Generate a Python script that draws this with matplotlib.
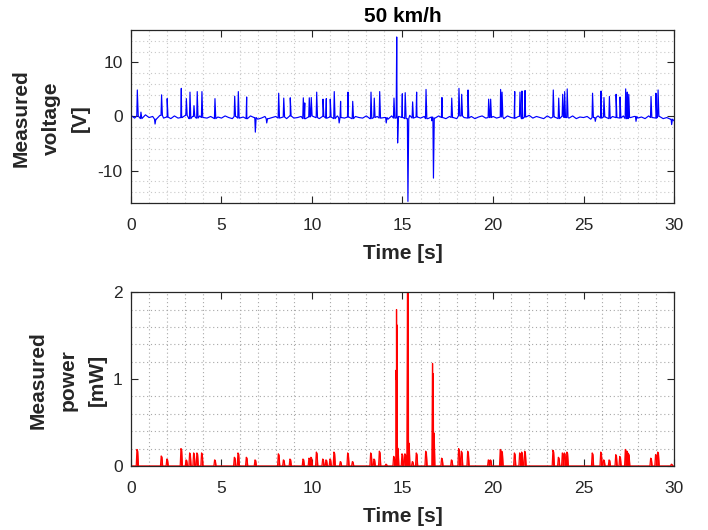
import numpy as np
import matplotlib
matplotlib.use("Agg")
import matplotlib.pyplot as plt
from matplotlib.ticker import MultipleLocator

plt.rcParams['font.family'] = ['Liberation Sans', 'DejaVu Sans']
plt.rcParams['axes.unicode_minus'] = False

# ---------------- data ----------------
title = "50 km/h"
x_label = "Time [s]"
v_label = "Measured\nvoltage\n[V]"
p_label = "Measured\npower\n[mW]"

# baseline voltage samples every 0.2 s (0 .. 30 s)
base_dt = 0.2
v_base = [
    0.2, -0.3, 0.1, -0.4, 0.3, -0.2, 0.0, -0.5, 0.2, -0.3,
    -0.1, -0.4, 0.1, -0.3, -0.2, 0.2, -0.4, 0.0, -0.3, 0.1,
    -0.2, -0.3, 0.0, -0.4, -0.1, -0.3, 0.1, -0.2, -0.4, 0.0,
    -0.3, -0.1, -0.4, 0.1, -0.2, -0.5, -0.3, 0.0, -0.4, -0.2,
    0.0, -0.3, -0.1, -0.4, 0.1, -0.3, -0.2, 0.0, -0.4, -0.1,
    0.1, -0.2, -0.4, 0.0, -0.3, -0.1, -0.4, 0.1, -0.2, -0.3,
    -0.1, -0.4, 0.0, -0.2, -0.3, 0.1, -0.4, -0.2, 0.0, -0.3,
    -0.2, -0.5, 0.1, -0.3, 0.0, -0.2, -0.4, 0.2, -0.3, -0.1,
    -0.3, 0.0, -0.4, -0.1, -0.3, 0.1, -0.2, -0.4, 0.0, -0.2,
    -0.4, 0.1, -0.2, -0.3, 0.0, -0.4, -0.1, 0.1, -0.3, -0.2,
    0.0, -0.3, -0.1, -0.4, 0.1, -0.2, -0.3, 0.0, -0.4, -0.1,
    0.2, -0.3, 0.0, -0.2, -0.4, 0.1, -0.3, -0.1, -0.4, 0.0,
    -0.2, -0.3, 0.1, -0.4, -0.1, -0.2, 0.0, -0.5, -0.2, 0.1,
    -0.3, -0.1, -0.4, 0.0, -0.2, -0.3, 0.1, -0.4, -0.2, 0.0,
    -0.3, -0.1, -0.4, 0.1, -0.2, -0.3, 0.0, -0.4, -0.2, -0.5,
    -0.8,
]

# voltage spike times [s] and peak values [V]
v_spike_t = [0.35, 0.55, 1.33, 1.69, 2.00, 2.78, 3.06, 3.26, 3.48, 3.66, 3.92,
             4.64, 5.73, 5.93, 6.39, 6.87, 7.50, 8.16, 8.44, 8.80, 9.52, 9.60,
             9.85, 9.96, 10.26, 10.61, 10.79, 11.01, 11.23, 11.50, 11.58, 11.99,
             12.25, 13.26, 13.44, 13.74, 14.10, 14.53, 14.68, 14.73, 14.99, 15.15,
             15.30, 15.56, 15.78, 16.30, 16.62, 16.71, 17.18, 17.72, 18.12, 18.27,
             18.62, 19.76, 19.87, 20.42, 20.50, 21.20, 21.49, 21.60, 21.77, 23.33,
             23.63, 23.85, 23.96, 24.10, 25.50, 25.65, 25.97, 26.13, 26.43, 26.80,
             27.02, 27.33, 27.42, 27.50, 27.90, 28.73, 29.00, 29.12, 29.87]
v_spike_a = [4.9, 0.8, -1.4, 4.0, 3.3, 5.2, 3.3, 4.5, 2.0, 4.6, 4.6,
             3.3, 3.75, 4.6, 3.6, -2.9, -1.2, 4.3, 3.4, 3.45, 3.45, 2.5,
             3.45, 3.5, 4.5, 3.2, 3.3, 3.2, 4.6, -1.2, 2.8, 4.5,
             2.8, 4.5, 3.4, 4.6, -1.2, 3.4, 14.7, -4.9, 4.2, 4.4,
             -15.7, 2.7, 4.5, 5.0, -0.8, -11.4, 3.5, 3.4, 5.2, 4.1,
             4.9, 3.2, 3.2, 5.0, 4.5, 4.6, 4.5, 4.7, 4.8, 4.9,
             3.4, 4.1, 4.6, 5.1, 4.3, -0.9, 4.7, 3.5, 3.7, 4.1,
             3.6, 5.1, 4.5, 4.1, -0.9, 3.7, 4.3, 4.9, -1.5]

# power spike times [s] and peak values [mW]
p_spike_t = [0.35, 1.69, 2.00, 2.78, 3.06, 3.26, 3.48, 3.66, 3.92, 4.64, 5.73,
             5.93, 6.39, 6.87, 8.16, 8.44, 8.80, 9.52, 9.85, 9.96, 10.26, 10.61,
             10.79, 11.01, 11.23, 11.58, 11.99, 12.25, 13.26, 13.44, 13.74, 14.10,
             14.53, 14.65, 14.69, 14.74, 14.99, 15.15, 15.30, 15.35, 15.56, 15.78,
             16.30, 16.68, 16.73, 17.18, 17.72, 18.12, 18.27, 18.62, 19.76, 19.87,
             20.42, 20.50, 21.20, 21.49, 21.60, 21.77, 23.33, 23.63, 23.85, 23.96,
             24.10, 25.50, 25.97, 26.13, 26.43, 26.80, 27.02, 27.33, 27.42, 27.50,
             28.73, 29.00, 29.12, 29.87]
p_spike_a = [0.19, 0.115, 0.08, 0.20, 0.07, 0.15, 0.15, 0.15, 0.15, 0.07, 0.10,
             0.15, 0.10, 0.07, 0.14, 0.07, 0.08, 0.08, 0.09, 0.10, 0.16, 0.08,
             0.07, 0.08, 0.16, 0.05, 0.15, 0.05, 0.15, 0.08, 0.17, 0.02,
             0.11, 1.10, 1.80, 0.22, 0.14, 0.14, 2.30, 0.29, 0.05, 0.15,
             0.17, 1.18, 0.42, 0.09, 0.07, 0.20, 0.17, 0.17, 0.07, 0.07,
             0.19, 0.17, 0.15, 0.15, 0.16, 0.17, 0.18, 0.10, 0.15, 0.15,
             0.16, 0.15, 0.16, 0.07, 0.07, 0.13, 0.11, 0.19, 0.17, 0.14,
             0.09, 0.13, 0.16, 0.02]

x_lim = (0, 30)
v_lim = (-16, 16)
p_lim = (0, 2)
x_ticks = [0, 5, 10, 15, 20, 25, 30]
v_ticks = [-10, 0, 10]
p_ticks = [0, 1, 2]

# ---------------- build traces ----------------
t_base = np.arange(len(v_base)) * base_dt
v_base = np.array(v_base)

def base_at(t):
    i = int(np.clip(round(t / base_dt), 0, len(v_base) - 1))
    return v_base[i]

vt = list(t_base)
vv = list(v_base)
for t, a in zip(v_spike_t, v_spike_a):
    b = base_at(t)
    vt += [t - 0.03, t, t + 0.045]
    vv += [b, a, b]
order = np.argsort(vt, kind="stable")
vt = np.array(vt)[order]
vv = np.array(vv)[order]

pt = [0.0, 30.0]
pv = [0.0, 0.0]
for t, a in zip(p_spike_t, p_spike_a):
    pt += [t - 0.06, t - 0.02, t + 0.02, t + 0.06]
    pv += [0.0, a, a * 0.9, 0.0]
order = np.argsort(pt, kind="stable")
pt = np.array(pt)[order]
pv = np.array(pv)[order]

# ---------------- figure ----------------
W, H = 708, 530
fig = plt.figure(figsize=(W / 100, H / 100), dpi=100)
ax1 = fig.add_axes([0.185, 0.617, 0.767, 0.3265])
ax2 = fig.add_axes([0.185, 0.1208, 0.767, 0.328])

edge = '#262626'
tick_fs = 12.5
lab_fs = 15

def style(ax, gcolor):
    ax.set_xlim(*x_lim)
    ax.set_xticks(x_ticks)
    ax.xaxis.set_minor_locator(MultipleLocator(1))
    ax.tick_params(which='major', direction='in', length=5, width=0.8,
                   top=True, right=True, colors=edge, labelsize=tick_fs)
    ax.tick_params(axis='x', which='major', pad=11)
    ax.tick_params(axis='y', which='major', pad=6)
    ax.tick_params(which='minor', length=0, top=True, right=True)
    ax.grid(which='minor', linestyle=(0, (1, 2.5)), linewidth=0.8, color=gcolor)
    ax.grid(which='major', visible=False)
    ax.set_axisbelow(True)
    for s in ax.spines.values():
        s.set_color(edge)
        s.set_linewidth(0.9)
    ax.set_xlabel(x_label, fontsize=lab_fs, fontweight='bold', color=edge, labelpad=8)

ax1.plot(vt, vv, color='#0000ff', linewidth=0.85)
ax1.set_ylim(*v_lim)
ax1.set_yticks(v_ticks)
ax1.yaxis.set_minor_locator(MultipleLocator(2))
style(ax1, '#c8c8c8')
ax1.set_title(title, fontsize=lab_fs, fontweight='bold', color='black', pad=6)

ax2.fill_between(pt, 0, pv, color='#ff0000', linewidth=0)
ax2.plot(pt, pv, color='#ff0000', linewidth=0.9)
ax2.set_ylim(*p_lim)
ax2.set_yticks(p_ticks)
ax2.yaxis.set_minor_locator(MultipleLocator(0.2))
style(ax2, '#a8a8a8')

fig.text(51 / W, 1 - 118 / H, v_label, rotation=90, ha='center', va='center',
         fontsize=lab_fs, fontweight='bold', color=edge, linespacing=1.7,
         multialignment='center')
fig.text(68 / W, 1 - 380 / H, p_label, rotation=90, ha='center', va='center',
         fontsize=lab_fs, fontweight='bold', color=edge, linespacing=1.7,
         multialignment='center')

fig.savefig("out.png", dpi=100, facecolor='white')
